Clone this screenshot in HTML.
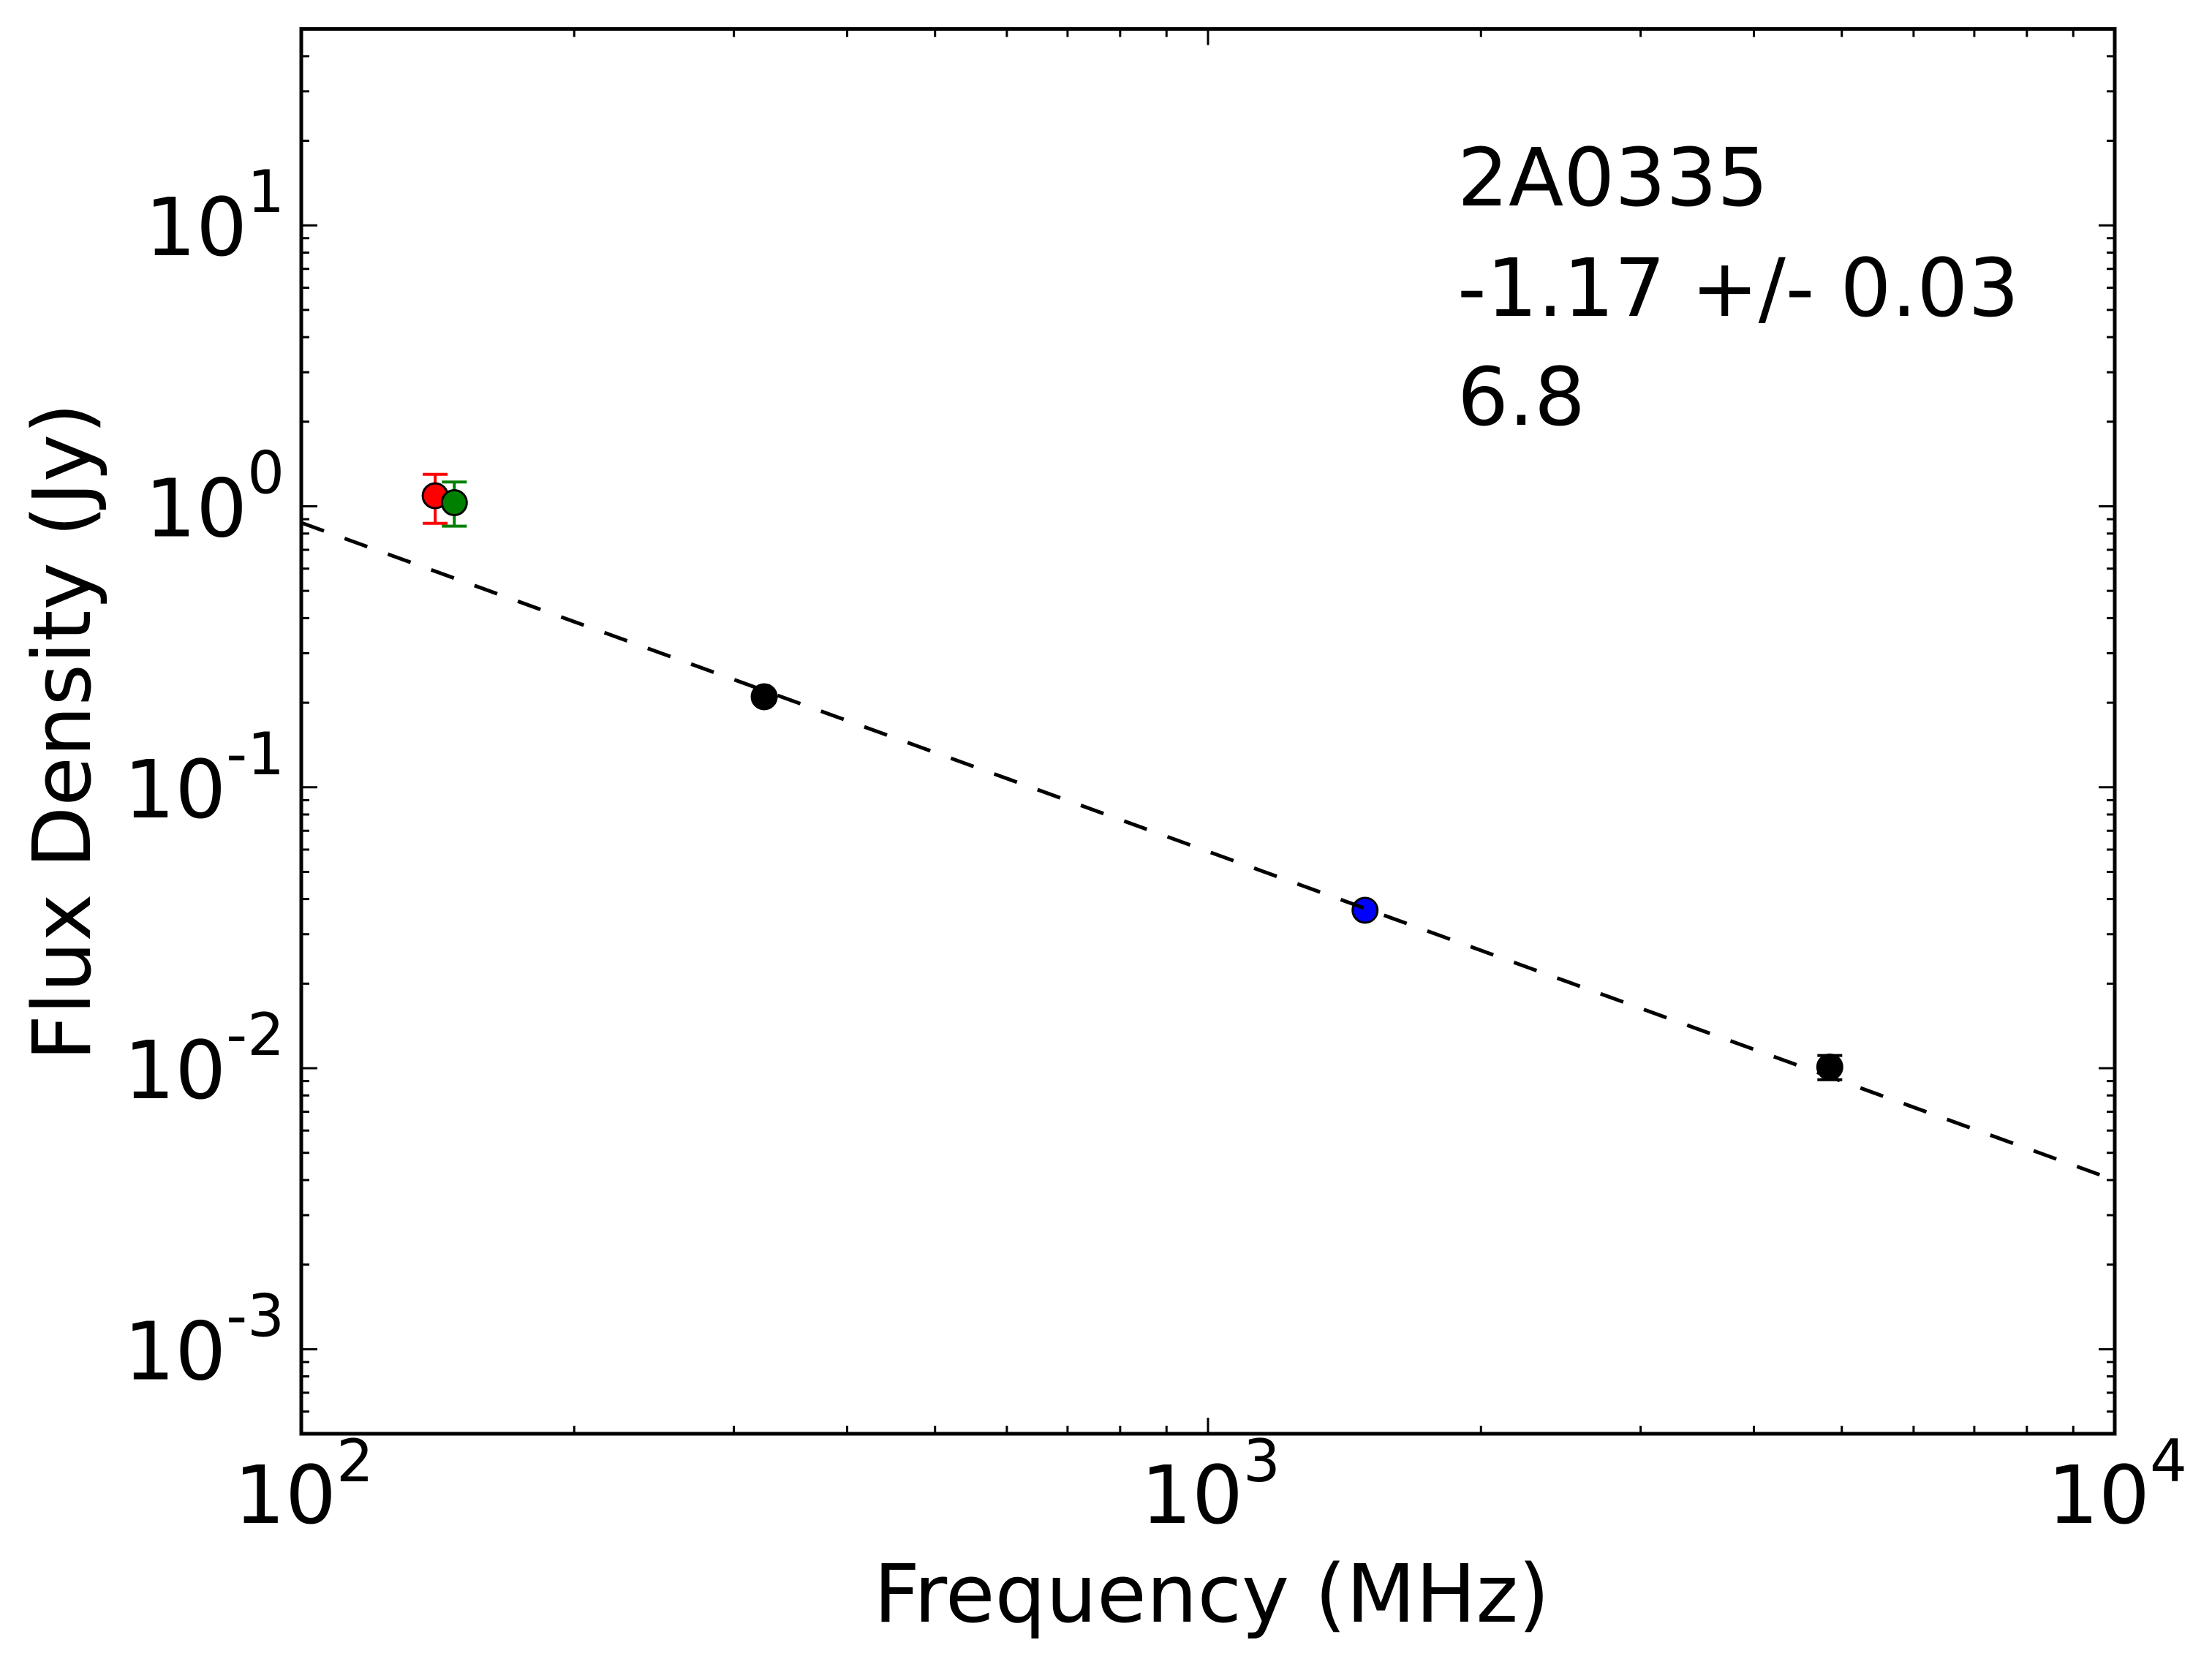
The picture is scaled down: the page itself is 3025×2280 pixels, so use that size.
<!DOCTYPE html>
<html>
<head>
<meta charset="utf-8">
<style>
  html, body { margin: 0; padding: 0; background: #fff; }
  svg { display: block; }
  text { font-family: "DejaVu Sans", "Liberation Sans", sans-serif; fill: #000; }
</style>
</head>
<body>
<svg id="chart" width="3025" height="2280" viewBox="0 0 3025 2280" xmlns="http://www.w3.org/2000/svg">
  <rect x="0" y="0" width="3025" height="2280" fill="#fff"/>
  <g id="grid-layer"></g>
  <g id="marks-layer"></g>
  <g id="axes-layer"></g>
  <text x="1993" y="281" font-size="110">2A0335</text>
  <text x="1993" y="432" font-size="110">-1.17 +/- 0.03</text>
  <text x="1993" y="581" font-size="110">6.8</text>
  <text x="1657" y="2218" font-size="110" text-anchor="middle">Frequency (MHz)</text>
  <text x="0" y="0" font-size="110" text-anchor="middle" transform="translate(123,1001) rotate(-90)">Flux Density (Jy)</text>
</svg>
<script>
// ---- data ----
const pointFreqs = [140.5, 147.5, 324, 1490, 4850];
const pointFlux = [1.09, 1.03, 0.210, 0.0365, 0.0101];
const pointErrLow = [0.22, 0.18, 0.005, 0.001, 0.001];
const pointErrHigh = [0.21, 0.19, 0.005, 0.001, 0.001];
const pointColors = ["#ff0000", "#008000", "#000000", "#0000ff", "#000000"];
const pointNames = ["point-red-140mhz", "point-green-148mhz", "point-black-324mhz", "point-blue-1490mhz", "point-black-4850mhz"];
const fitNorm = [0.874];
const fitIndex = [-1.17];
const fitRefFreq = [100];
const xTickExps = [2, 3, 4];
const yTickExps = [-3, -2, -1, 0, 1];

// ---- axes ----
const L = 412, R = 2892, T = 39.6, B = 1961;
const xMin = 100, xMax = 10000, yMin = 5e-4, yMax = 50;
function xs(v) { return L + (Math.log10(v) - Math.log10(xMin)) / (Math.log10(xMax) - Math.log10(xMin)) * (R - L); }
function ys(v) { return B - (Math.log10(v) - Math.log10(yMin)) / (Math.log10(yMax) - Math.log10(yMin)) * (B - T); }

const NS = "http://www.w3.org/2000/svg";
function mk(tag, attrs, parent) {
  const e = document.createElementNS(NS, tag);
  for (const k in attrs) e.setAttribute(k, attrs[k]);
  parent.appendChild(e);
  return e;
}
const marks = document.getElementById("marks-layer");
const axes = document.getElementById("axes-layer");

function drawPoint(i) {
  const g = mk("g", {}, marks);
  
  
  const cx = xs(pointFreqs[i]);
  const yTop = ys(pointFlux[i] + pointErrHigh[i]);
  const yBot = ys(pointFlux[i] - pointErrLow[i]);
  const col = pointColors[i];
  const eb = mk("path", { d: `M${cx},${yTop}V${yBot}M${cx-17},${yTop}H${cx+17}M${cx-17},${yBot}H${cx+17}`, stroke: col, "stroke-width": 4, fill: "none" }, g);
  
  
  const c = mk("circle", { cx: cx, cy: ys(pointFlux[i]), r: 17, fill: col, stroke: "#000", "stroke-width": 3 }, g);
  
  
}
drawPoint(3);

// ---- fit line ----
let d = "";
for (let k = 0; k <= 100; k++) {
  const f = Math.pow(10, Math.log10(xMin) + k / 100 * (Math.log10(xMax) - Math.log10(xMin)));
  const s = fitNorm[0] * Math.pow(f / fitRefFreq[0], fitIndex[0]);
  d += (k ? "L" : "M") + xs(f).toFixed(2) + "," + ys(s).toFixed(2);
}
const fit = mk("path", { d: d, stroke: "#000", "stroke-width": 5, fill: "none", "stroke-dasharray": "33,30" }, marks);



[0, 1, 2, 4].forEach(drawPoint);

// ---- frame ----
const frame = mk("rect", { x: L, y: T, width: R - L, height: B - T, fill: "none", stroke: "#000", "stroke-width": 5 }, axes);



// ---- ticks ----
let td = "";
for (let e = 2; e <= 4; e++) {
  for (let m = 1; m <= 9; m++) {
    const v = m * Math.pow(10, e);
    if (v > xMax) break;
    const x = xs(v);
    const len = m === 1 ? 22 : 11;
    td += `M${x},${B}V${B - len}M${x},${T}V${T + len}`;
  }
}
for (let e = -4; e <= 1; e++) {
  for (let m = 1; m <= 9; m++) {
    const v = m * Math.pow(10, e);
    if (v < yMin || v > yMax) continue;
    const y = ys(v);
    const len = m === 1 ? 22 : 11;
    td += `M${L},${y}H${L + len}M${R},${y}H${R - len}`;
  }
}
const ticks = mk("path", { d: td, stroke: "#000", "stroke-width": 3, fill: "none" }, axes);



// ---- tick labels ----
xTickExps.forEach(function (e) {
  const t = mk("text", { x: xs(Math.pow(10, e)) - 92, y: 2083, "font-size": 110 }, axes);
  
  
  t.textContent = "10";
  const s = mk("tspan", { dy: -57, "font-size": 80 }, t);
  s.textContent = String(e);
});
yTickExps.forEach(function (e) {
  const y = ys(Math.pow(10, e));
  const t = mk("text", { x: 389, y: y + 41, "font-size": 110, "text-anchor": "end" }, axes);
  
  
  const a = mk("tspan", {}, t);
  a.textContent = "10";
  const s = mk("tspan", { dy: -59, "font-size": 80 }, t);
  s.textContent = e < 0 ? "-" + Math.abs(e) : String(e);
});
</script>
</body>
</html>
